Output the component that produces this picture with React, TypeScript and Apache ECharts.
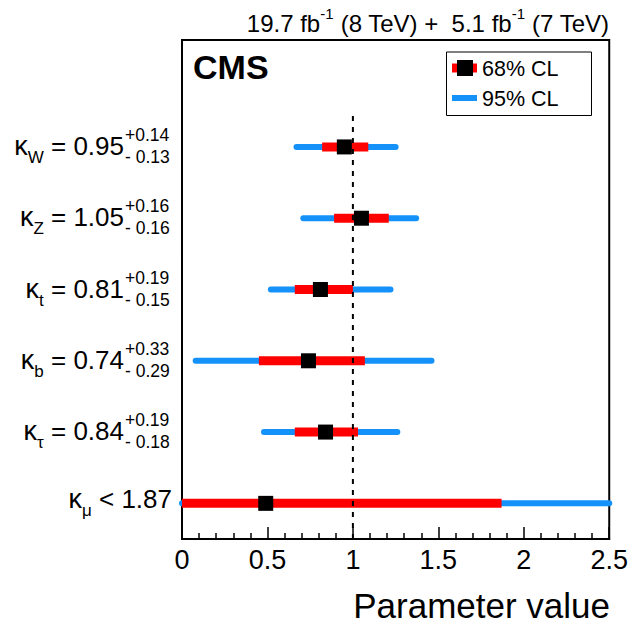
import React, { useEffect, useRef } from "react";
import * as echarts from "echarts";

// ---- data (top row first) ----
const subs = ["W", "Z", "t", "b", "τ", "μ"];
const bestFit = [0.95, 1.05, 0.81, 0.74, 0.84, 0.49];
const lo68 = [0.82, 0.89, 0.66, 0.45, 0.66, 0.0];
const hi68 = [1.09, 1.21, 1.0, 1.07, 1.03, 1.87];
const lo95 = [0.67, 0.71, 0.52, 0.08, 0.48, 0.0];
const hi95 = [1.25, 1.37, 1.22, 1.46, 1.26, 2.5];
const valueText = ["0.95", "1.05", "0.81", "0.74", "0.84", "1.87"];
const errUp = ["+0.14", "+0.16", "+0.19", "+0.33", "+0.19", ""];
const errDown = ["- 0.13", "- 0.16", "- 0.15", "- 0.29", "- 0.18", ""];
const isLimit = [false, false, false, false, false, true];
const rowPos = [5, 4, 3, 2, 1, 0];
const xTicks = { min: 0, max: 2.5, interval: 0.5 };

const FONT = "'Liberation Sans', Arial, Helvetica, sans-serif";
const RED = "#ff0000";
const BLUE = "#1492fa";

export default function App() {
  const ref = useRef<HTMLDivElement>(null);

  useEffect(() => {
    if (!ref.current) return;
    const chart = echarts.init(ref.current, null, { renderer: "svg" });

    const data = subs.map((_, i) => [lo95[i], hi95[i], lo68[i], hi68[i], bestFit[i], rowPos[i], i]);

    const option: any = {
      animation: false,
      backgroundColor: "#fff",
      grid: {
        left: 182,
        right: 20,
        top: 40,
        bottom: 86,
        show: true,
        borderColor: "#000",
        borderWidth: 2,
        backgroundColor: "transparent",
      },
      xAxis: {
        type: "value",
        min: xTicks.min,
        max: xTicks.max,
        interval: xTicks.interval,
        axisLine: { show: true, onZero: false, lineStyle: { color: "#000", width: 2 } },
        axisTick: { show: true, inside: true, length: 12, lineStyle: { color: "#000", width: 1.5 } },
        minorTick: { show: true, splitNumber: 5, length: 6, lineStyle: { color: "#000", width: 1.5 } },
        axisLabel: { color: "#000", fontSize: 27, fontFamily: FONT, margin: 7 },
        splitLine: { show: false },
      },
      yAxis: {
        type: "value",
        min: -0.5,
        max: 6.5,
        axisLine: { show: true, onZero: false, lineStyle: { color: "#000", width: 2 } },
        axisTick: { show: false },
        axisLabel: { show: false },
        splitLine: { show: false },
      },
      graphic: [
        {
          type: "text",
          x: 609,
          y: 23,
          style: {
            text: "{m|19.7 fb}{s|-1}{m| (8 TeV) +  5.1 fb}{s|-1}{m| (7 TeV)}",
            align: "right",
            verticalAlign: "middle",
            fill: "#000",
            rich: {
              m: { fontSize: 24, fontFamily: FONT, lineHeight: 34, fill: "#000" },
              s: { fontSize: 15, fontFamily: FONT, lineHeight: 14, verticalAlign: "top", fill: "#000" },
            },
          },
        },
        {
          type: "text",
          x: 193,
          y: 67,
          style: {
            text: "CMS",
            fontSize: 34,
            fontWeight: "bold",
            fontFamily: FONT,
            fill: "#000",
            align: "left",
            verticalAlign: "middle",
          },
        },
        {
          type: "text",
          x: 610,
          y: 605,
          style: {
            text: "Parameter value",
            fontSize: 35,
            fontFamily: FONT,
            fill: "#000",
            align: "right",
            verticalAlign: "middle",
          },
        },
        // legend
        {
          type: "rect",
          shape: { x: 446.5, y: 52, width: 145, height: 63.5 },
          style: { fill: "#fff", stroke: "#000", lineWidth: 1 },
          z: 10,
        },
        {
          type: "line",
          shape: { x1: 452, y1: 68, x2: 477, y2: 68 },
          style: { stroke: RED, lineWidth: 9 },
          z: 11,
        },
        {
          type: "rect",
          shape: { x: 457, y: 60, width: 16, height: 16 },
          style: { fill: "#000" },
          z: 12,
        },
        {
          type: "line",
          shape: { x1: 452, y1: 98, x2: 477, y2: 98 },
          style: { stroke: BLUE, lineWidth: 6 },
          z: 11,
        },
        {
          type: "text",
          x: 482,
          y: 69,
          z: 11,
          style: { text: "68% CL", fontSize: 21.5, fontFamily: FONT, fill: "#000", align: "left", verticalAlign: "middle" },
        },
        {
          type: "text",
          x: 482,
          y: 99,
          z: 11,
          style: { text: "95% CL", fontSize: 21.5, fontFamily: FONT, fill: "#000", align: "left", verticalAlign: "middle" },
        },
      ],
      series: [
        {
          type: "custom",
          clip: false,
          silent: true,
          data,
          encode: { x: [0, 1, 2, 3, 4], y: 5 },
          renderItem: (params: any, api: any) => {
            const i = api.value(6);
            const yv = api.value(5);
            const a95 = api.coord([api.value(0), yv]);
            const b95 = api.coord([api.value(1), yv]);
            const a68 = api.coord([api.value(2), yv]);
            const b68 = api.coord([api.value(3), yv]);
            const pb = api.coord([api.value(4), yv]);
            const x0 = api.coord([0, yv])[0];
            const R = pb[1];
            const children: any[] = [
              {
                type: "line",
                shape: { x1: a95[0], y1: a95[1], x2: b95[0], y2: b95[1] },
                style: { stroke: BLUE, lineWidth: 6, lineCap: "round" },
              },
              {
                type: "line",
                shape: { x1: a68[0], y1: a68[1], x2: b68[0], y2: b68[1] },
                style: { stroke: RED, lineWidth: 9, lineCap: "butt" },
              },
              {
                type: "rect",
                shape: { x: pb[0] - 7.5, y: pb[1] - 7.5, width: 15, height: 15 },
                style: { fill: "#000" },
              },
            ];
            const rich = {
              k: { fontSize: 27, fontFamily: FONT, lineHeight: 40, fill: "#000" },
              s: { fontSize: 17, fontFamily: FONT, lineHeight: 16, verticalAlign: "bottom", fill: "#000" },
              m: { fontSize: 26, fontFamily: FONT, lineHeight: 40, fill: "#000" },
            };
            if (isLimit[i]) {
              children.push({
                type: "text",
                style: {
                  text: `{k|κ}{s|${subs[i]}}{m| < ${valueText[i]}}`,
                  x: x0 - 10,
                  y: R - 4,
                  align: "right",
                  verticalAlign: "middle",
                  fill: "#000",
                  rich,
                },
              });
            } else {
              children.push({
                type: "text",
                style: {
                  text: `{k|κ}{s|${subs[i]}}{m| = ${valueText[i]}}`,
                  x: x0 - 58,
                  y: R - 1,
                  align: "right",
                  verticalAlign: "middle",
                  fill: "#000",
                  rich,
                },
              });
              children.push({
                type: "text",
                style: {
                  text: errUp[i],
                  x: x0 - 57,
                  y: R - 12,
                  align: "left",
                  verticalAlign: "middle",
                  fontSize: 17.5,
                  fontFamily: FONT,
                  fill: "#000",
                },
              });
              children.push({
                type: "text",
                style: {
                  text: errDown[i],
                  x: x0 - 57,
                  y: R + 10,
                  align: "left",
                  verticalAlign: "middle",
                  fontSize: 17.5,
                  fontFamily: FONT,
                  fill: "#000",
                },
              });
            }
            return { type: "group", children };
          },
          z: 2,
        },
        {
          type: "line",
          data: [
            [1, -0.5],
            [1, 5.45],
          ],
          symbol: "none",
          silent: true,
          lineStyle: { color: "#000", width: 2, type: [5, 6] },
          z: 3,
        },
      ],
    };

    chart.setOption(option);
    return () => chart.dispose();
  }, []);

  return (
    <div
      ref={ref}
      style={{ position: "fixed", left: 0, top: 0, width: 631, height: 625, background: "#fff" }}
    />
  );
}
